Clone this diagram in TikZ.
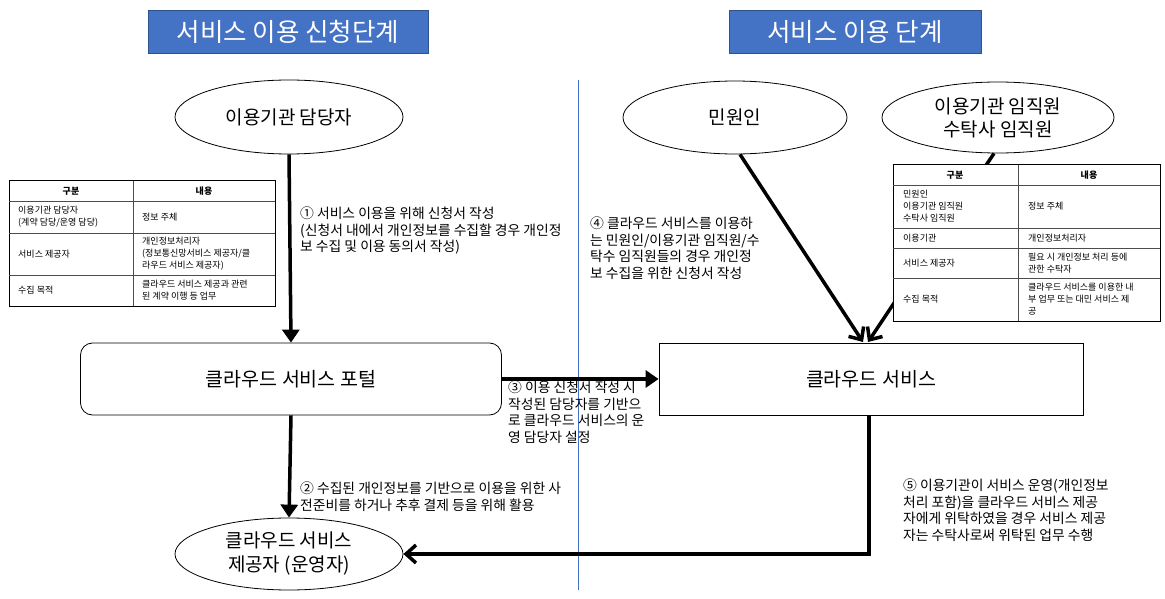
\documentclass[tikz,border=0pt]{standalone}
\usepackage{fontspec}
\setmainfont{Noto Sans CJK KR}
\usetikzlibrary{shapes.geometric,arrows.meta,calc}
\definecolor{tblue}{HTML}{4472C4}
\definecolor{tborder}{HTML}{2F528F}
\begin{document}
\begin{tikzpicture}[x=1pt,y=-1pt,
 title/.style={draw=tborder,fill=tblue,text=white,line width=0.8pt,font=\fontsize{25.5}{28}\selectfont,minimum height=43pt,inner sep=0pt},
 oval/.style={ellipse,draw,line width=0.8pt,inner sep=0pt,align=center,font=\fontsize{19}{23}\selectfont},
 box/.style={draw,line width=0.8pt,minimum height=72pt,inner sep=0pt,font=\fontsize{19.5}{22}\selectfont},
 flow/.style={line width=3.5pt,-{Triangle[width=17pt,length=13pt]}},
 barb/.style={line width=3.5pt,-{Straight Barb[width=18pt,length=10pt,line width=3.5pt]}},
 lbl/.style={anchor=north west,inner sep=0pt,align=left,font=\fontsize{13.8}{16.5}\selectfont},
 cell/.style={anchor=west,inner sep=0pt,align=left,font=\fontsize{9}{12}\selectfont},
 head/.style={inner sep=0pt,font=\fontsize{9}{12}\selectfont\bfseries},
 tline/.style={line width=0.5pt,black!70},
 tframe/.style={line width=1pt,fill=white}
]
\useasboundingbox (0,0) rectangle (1165,599);

% titles
\node[title,minimum width=280pt] (t1) at (288,31.5) {서비스 이용 신청단계};
\node[title,minimum width=252pt] (t2) at (855,31.5) {서비스 이용 단계};

% divider
\draw[tblue,line width=0.8pt] (578,80) -- (578,590);

% nodes
\node[oval,minimum width=228pt,minimum height=74pt] (mgr) at (289,117) {이용기관 담당자};
\node[oval,minimum width=224pt,minimum height=73pt] (civ) at (735,117.5) {민원인};
\node[oval,minimum width=232pt,minimum height=71pt] (emp) at (998,117.5) {이용기관 임직원\\수탁사 임직원};
\node[box,rounded corners=12pt,minimum width=421pt] (portal) at (291,379) {클라우드 서비스 포털};
\node[box,minimum width=424pt] (cloud) at (871,379) {클라우드 서비스};
\node[oval,minimum width=228pt,minimum height=72pt,font=\fontsize{19}{24}\selectfont] (prov) at (289,554) {클라우드 서비스\\제공자 (운영자)};

% connectors
\draw[flow] (mgr.south) -- (portal.north);
\draw[flow] (portal.south) -- (prov.north);
\draw[flow] (portal.east) -- (cloud.west);
\draw[barb] ([xshift=-2pt]cloud.south) |- (prov.east);
\coordinate (tipA) at (863,342);
\coordinate (tipB) at (868,342);
\draw[barb] ([xshift=5pt]civ.south) -- (tipA);
\draw[barb] ([xshift=-4pt]emp.south) -- (tipB);

% labels
\node[lbl] (l1) at (300,207) {① 서비스 이용을 위해 신청서 작성\\(신청서 내에서 개인정보를 수집할 경우 개인정\\보 수집 및 이용 동의서 작성)};
\node[lbl] (l4) at (590,217) {④ 클라우드 서비스를 이용하\\는 민원인/이용기관 임직원/수\\탁수 임직원들의 경우 개인정\\보 수집을 위한 신청서 작성};
\node[lbl] (l3) at (508,381) {③ 이용 신청서 작성 시\\작성된 담당자를 기반으\\로 클라우드 서비스의 운\\영 담당자 설정};
\node[lbl] (l2) at (300,482) {② 수집된 개인정보를 기반으로 이용을 위한 사\\전준비를 하거나 추후 결제 등을 위해 활용};
\node[lbl] (l5) at (903,479) {⑤ 이용기관이 서비스 운영(개인정보\\처리 포함)을 클라우드 서비스 제공\\자에게 위탁하였을 경우 서비스 제공\\자는 수탁사로써 위탁된 업무 수행};

% left table
\draw[tframe] (9,181) rectangle (275,306);
\draw[tline] (9,201) -- (275,201) (9,233) -- (275,233) (9,275) -- (275,275) (133,181) -- (133,306);
\node[head] (lh1) at (71,191) {구분};
\node[head] (lh2) at (204,191) {내용};
\node[cell] (la1) at (18,217) {이용기관 담당자\\(계약 담당/운영 담당)};
\node[cell] (lb1) at (142,217) {정보 주체};
\node[cell] (la2) at (18,254) {서비스 제공자};
\node[cell] (lb2) at (142,254) {개인정보처리자\\(정보통신망서비스 제공자/클\\라우드 서비스 제공자)};
\node[cell] (la3) at (18,290.5) {수집 목적};
\node[cell] (lb3) at (142,290.5) {클라우드 서비스 제공과 관련\\된 계약 이행 등 업무};

% right table
\draw[tframe] (893,165) rectangle (1160,321);
\draw[tline] (893,185) -- (1160,185) (893,228) -- (1160,228) (893,248) -- (1160,248) (893,278) -- (1160,278) (1018,165) -- (1018,321);
\node[head] (rh1) at (955,175) {구분};
\node[head] (rh2) at (1089,175) {내용};
\node[cell] (ra1) at (903,206.5) {민원인\\이용기관 임직원\\수탁사 임직원};
\node[cell] (rb1) at (1028,206.5) {정보 주체};
\node[cell] (ra2) at (903,238) {이용기관};
\node[cell] (rb2) at (1028,238) {개인정보처리자};
\node[cell] (ra3) at (903,263) {서비스 제공자};
\node[cell] (rb3) at (1028,263) {필요 시 개인정보 처리 등에\\관한 수탁자};
\node[cell] (ra4) at (903,299.5) {수집 목적};
\node[cell] (rb4) at (1028,299.5) {클라우드 서비스를 이용한 내\\부 업무 또는 대민 서비스 제\\공};
\end{tikzpicture}
\end{document}
